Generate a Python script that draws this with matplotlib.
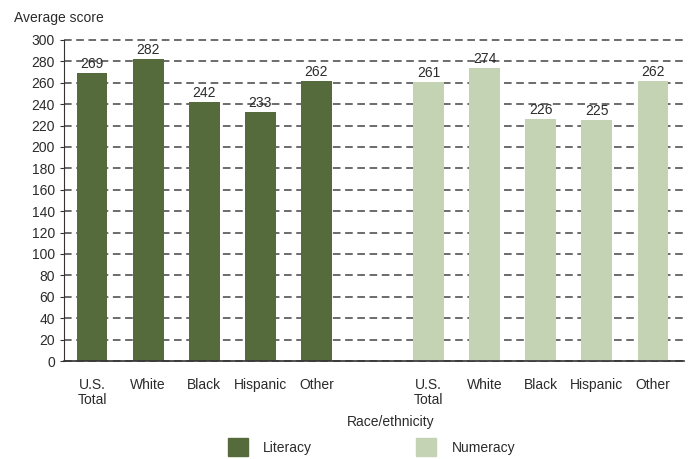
import matplotlib.pyplot as plt
import matplotlib.patches as mpatches
import numpy as np

plt.rcParams['font.family'] = ['Liberation Sans', 'DejaVu Sans']

groups = ['U.S.\nTotal', 'White', 'Black', 'Hispanic', 'Other']
literacy = [269, 282, 242, 233, 262]
numeracy = [261, 274, 226, 225, 262]

lit_color = '#566b3c'
num_color = '#c3d3b3'
txt_color = '#2b2b2b'

fig = plt.figure(figsize=(6.88, 4.59), dpi=100)
ax = fig.add_axes([0.093, 0.2135, 0.901, 0.6995])

x_lit = np.arange(len(groups))
x_num = x_lit + 6

ax.set_axisbelow(True)
ax.yaxis.grid(True, linestyle=(0, (5, 3)), color='#444444', linewidth=1.1)
for gl in ax.get_ygridlines():
    gl.set_clip_on(False)
ax.bar(x_lit, literacy, width=0.55, color=lit_color)
ax.bar(x_num, numeracy, width=0.55, color=num_color)

for xs, vals in [(x_lit, literacy), (x_num, numeracy)]:
    for xi, v in zip(xs, vals):
        ax.annotate(str(v), (xi, v), xytext=(0, 1.5), textcoords='offset points',
                    ha='center', va='bottom', fontsize=10, color=txt_color)

ax.set_ylim(0, 300)
ax.set_yticks(range(0, 301, 20))
ax.set_xlim(-0.5, 10.55)
ax.set_xticks(list(x_lit) + list(x_num))
ax.set_xticklabels(groups + groups, fontsize=10, color=txt_color, linespacing=1.15)
ax.tick_params(axis='x', length=0, pad=12)
ax.tick_params(axis='y', labelsize=10, labelcolor=txt_color, length=3, color='#333333')
for s in ['top', 'right']:
    ax.spines[s].set_visible(False)
ax.spines['left'].set_color('#333333')
ax.spines['bottom'].set_color('#333333')
ax.spines['bottom'].set_linewidth(1.2)

fig.text(0.02, 0.96, 'Average score', fontsize=10, color=txt_color, va='center')
fig.text(0.568, 0.08, 'Race/ethnicity', fontsize=10, color=txt_color, ha='center', va='center')

handles = [mpatches.Patch(color=lit_color, label='Literacy'),
           mpatches.Patch(color=num_color, label='Numeracy')]
fig.legend(handles=handles, loc='center', bbox_to_anchor=(0.54, 0.026), ncol=2,
           frameon=False, fontsize=10, handlelength=1.45, handleheight=1.6,
           columnspacing=7.5, handletextpad=1.1, labelcolor=txt_color,
           borderpad=0.1)

fig.savefig('out.png', dpi=100)
